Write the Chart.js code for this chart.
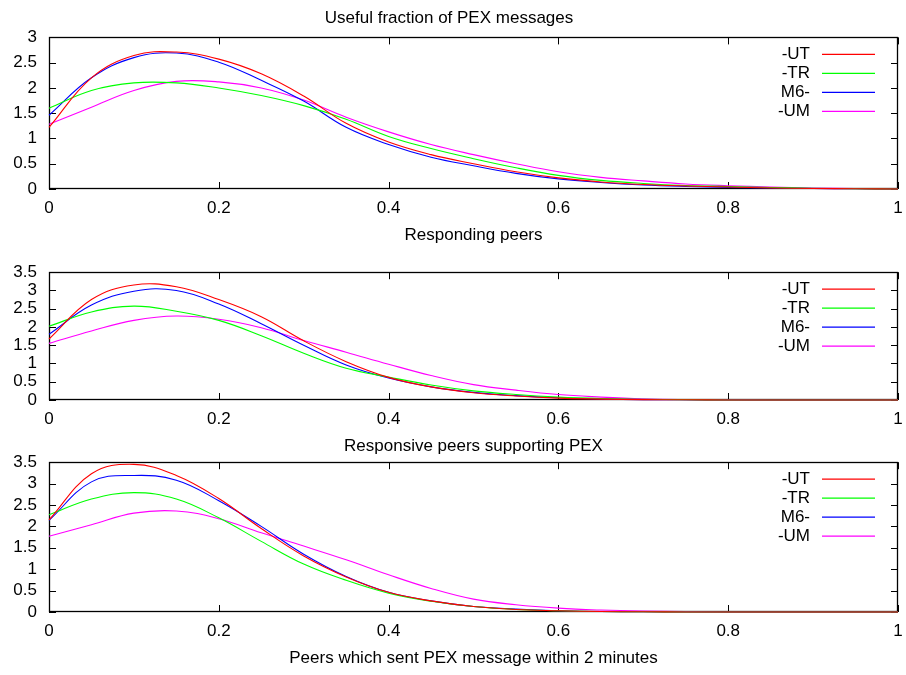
<!DOCTYPE html>
<html>
<head>
<meta charset="utf-8">
<script src="https://cdn.jsdelivr.net/npm/chart.js@4.4.0/dist/chart.umd.min.js"></script>
<style>
  body { margin: 0; background: #fff; }
  #wrap { position: relative; width: 906px; height: 675px; }
  canvas { position: absolute; left: 0; }
</style>
</head>
<body>
<div id="wrap">
  <canvas id="c1" width="906" height="250" style="top:0px"></canvas>
  <canvas id="c2" width="906" height="211" style="top:250px"></canvas>
  <canvas id="c3" width="906" height="233" style="top:440px"></canvas>
</div>
<script>
// sample positions along the x axis (fraction of peers)
const xs = [0, 0.05, 0.1, 0.15, 0.2, 0.25, 0.3, 0.35, 0.4, 0.45, 0.5,
            0.55, 0.6, 0.65, 0.7, 0.75, 0.8, 0.85, 0.9, 0.95, 1];

const seriesNames = ['-UT', '-TR', 'M6-', '-UM'];
const seriesColors = ['#ff0000', '#00ff00', '#0000ff', '#ff00ff'];

// Useful fraction of PEX messages
const usefulUT = [1.22, 2.20, 2.64, 2.71, 2.57, 2.28, 1.84, 1.30, 0.93, 0.68, 0.50, 0.34, 0.22, 0.14, 0.09, 0.06, 0.04, 0.02, 0.01, 0.005, 0];
const usefulTR = [1.60, 1.95, 2.10, 2.10, 2.00, 1.85, 1.65, 1.38, 1.04, 0.80, 0.60, 0.42, 0.27, 0.17, 0.11, 0.07, 0.05, 0.03, 0.015, 0.005, 0];
const usefulM6 = [1.46, 2.20, 2.60, 2.69, 2.51, 2.15, 1.74, 1.22, 0.88, 0.63, 0.46, 0.31, 0.20, 0.13, 0.08, 0.05, 0.03, 0.02, 0.01, 0.005, 0];
const usefulUM = [1.28, 1.62, 1.95, 2.13, 2.12, 2.00, 1.76, 1.42, 1.13, 0.88, 0.68, 0.50, 0.34, 0.23, 0.16, 0.10, 0.065, 0.04, 0.02, 0.01, 0];

// Responsive peers supporting PEX
const supportUT = [1.67, 2.75, 3.15, 3.10, 2.75, 2.28, 1.62, 1.05, 0.62, 0.36, 0.20, 0.11, 0.05, 0.025, 0.01, 0.005, 0, 0, 0, 0, 0];
const supportTR = [2.02, 2.41, 2.57, 2.43, 2.18, 1.76, 1.28, 0.87, 0.63, 0.41, 0.25, 0.15, 0.08, 0.04, 0.02, 0.01, 0, 0, 0, 0, 0];
const supportM6 = [1.80, 2.60, 2.98, 3.00, 2.63, 2.09, 1.50, 0.96, 0.60, 0.36, 0.21, 0.12, 0.06, 0.03, 0.01, 0.005, 0, 0, 0, 0, 0];
const supportUM = [1.55, 1.89, 2.18, 2.30, 2.21, 1.98, 1.63, 1.31, 0.98, 0.67, 0.42, 0.27, 0.15, 0.08, 0.03, 0.01, 0.005, 0, 0, 0, 0];

// Peers which sent PEX message within 2 minutes
const sentUT = [2.15, 3.23, 3.45, 3.19, 2.65, 1.95, 1.31, 0.82, 0.46, 0.26, 0.13, 0.06, 0.03, 0.01, 0.005, 0, 0, 0, 0, 0, 0];
const sentTR = [2.27, 2.64, 2.79, 2.64, 2.20, 1.65, 1.12, 0.74, 0.44, 0.25, 0.13, 0.06, 0.03, 0.01, 0.005, 0, 0, 0, 0, 0, 0];
const sentM6 = [2.14, 3.04, 3.19, 3.08, 2.60, 2.00, 1.35, 0.83, 0.46, 0.26, 0.13, 0.07, 0.03, 0.01, 0.005, 0, 0, 0, 0, 0, 0];
const sentUM = [1.77, 2.04, 2.31, 2.36, 2.18, 1.85, 1.54, 1.22, 0.87, 0.55, 0.30, 0.17, 0.09, 0.045, 0.02, 0.01, 0, 0, 0, 0, 0];

const FONT = '"Liberation Sans", Arial, sans-serif';
Chart.defaults.font.family = FONT;
Chart.defaults.font.size = 17;
Chart.defaults.color = '#000';

// box border with inward, mirrored tick marks plus a key inside the plot
const gnuplotFrame = {
  id: 'gnuplotFrame',
  beforeDatasetsDraw(chart) {
    const { ctx, chartArea: a, scales: { x, y } } = chart;
    ctx.save();
    ctx.strokeStyle = '#000';
    ctx.lineWidth = 1;
    ctx.beginPath();
    x.ticks.forEach(t => {
      const px = Math.round(x.getPixelForValue(t.value)) + 0.5;
      ctx.moveTo(px, a.bottom); ctx.lineTo(px, a.bottom - 7);
      ctx.moveTo(px, a.top); ctx.lineTo(px, a.top + 7);
    });
    y.ticks.forEach(t => {
      const py = Math.round(y.getPixelForValue(t.value)) + 0.5;
      ctx.moveTo(a.left, py); ctx.lineTo(a.left + 7, py);
      ctx.moveTo(a.right, py); ctx.lineTo(a.right - 7, py);
    });
    ctx.stroke();
    ctx.lineWidth = 1.3;
    ctx.strokeRect(Math.round(a.left) + 0.5, Math.round(a.top) + 0.5,
                   Math.round(a.width) - 1, Math.round(a.height) - 1);
    ctx.restore();
  },
  afterDatasetsDraw(chart) {
    const { ctx, chartArea: a } = chart;
    ctx.save();
    ctx.font = '17px ' + FONT;
    ctx.textAlign = 'right';
    ctx.textBaseline = 'middle';
    chart.data.datasets.forEach((ds, i) => {
      const yy = a.top + 17 + i * 19;
      ctx.fillStyle = '#000';
      ctx.fillText(ds.label, 810, yy);
      ctx.strokeStyle = ds.borderColor;
      ctx.lineWidth = 1.3;
      ctx.beginPath();
      ctx.moveTo(822, yy);
      ctx.lineTo(875, yy);
      ctx.stroke();
    });
    ctx.restore();
  }
};

const fmt = v => String(Math.round(v * 100) / 100);

function makePanel(id, series, yMax, xTitle, topTitle, padTop) {
  const datasets = series.map((vals, i) => ({
    label: seriesNames[i],
    data: xs.map((x, k) => ({ x: x, y: vals[k] })),
    borderColor: seriesColors[i],
    borderWidth: 1.1,
    pointRadius: 0,
    fill: false,
    tension: 0.4,
    clip: 3
  }));
  return new Chart(document.getElementById(id), {
    type: 'line',
    data: { datasets },
    options: {
      responsive: false,
      animation: false,
      events: [],
      layout: { padding: { top: padTop, right: 8, bottom: 0, left: 0 } },
      plugins: {
        legend: { display: false },
        tooltip: { enabled: false },
        title: {
          display: !!topTitle,
          text: topTitle || '',
          font: { size: 17, weight: 'normal', lineHeight: 1.2 },
          padding: { top: 8, bottom: 9 }
        }
      },
      scales: {
        x: {
          type: 'linear',
          min: 0, max: 1,
          border: { display: false },
          grid: { display: false, drawTicks: false },
          ticks: { stepSize: 0.2, padding: 9, maxRotation: 0, autoSkip: false, callback: fmt },
          title: { display: true, text: xTitle, font: { size: 17, lineHeight: 1.2 }, padding: { top: 8, bottom: 4 } },
          afterFit(scale) {
            scale.height = 61;
            scale.paddingLeft = 0;
            scale.paddingRight = 0;
          }
        },
        y: {
          min: 0, max: yMax,
          border: { display: false },
          grid: { display: false, drawTicks: false },
          ticks: { stepSize: 0.5, padding: 12, autoSkip: false, callback: fmt },
          afterFit(scale) { scale.width = 49; }
        }
      }
    },
    plugins: [gnuplotFrame]
  });
}

makePanel('c1', [usefulUT, usefulTR, usefulM6, usefulUM], 3,
  'Responding peers', 'Useful fraction of PEX messages', 0);
makePanel('c2', [supportUT, supportTR, supportM6, supportUM], 3.5,
  'Responsive peers supporting PEX', null, 21);
makePanel('c3', [sentUT, sentTR, sentM6, sentUM], 3.5,
  'Peers which sent PEX message within 2 minutes', null, 19);
</script>
</body>
</html>
